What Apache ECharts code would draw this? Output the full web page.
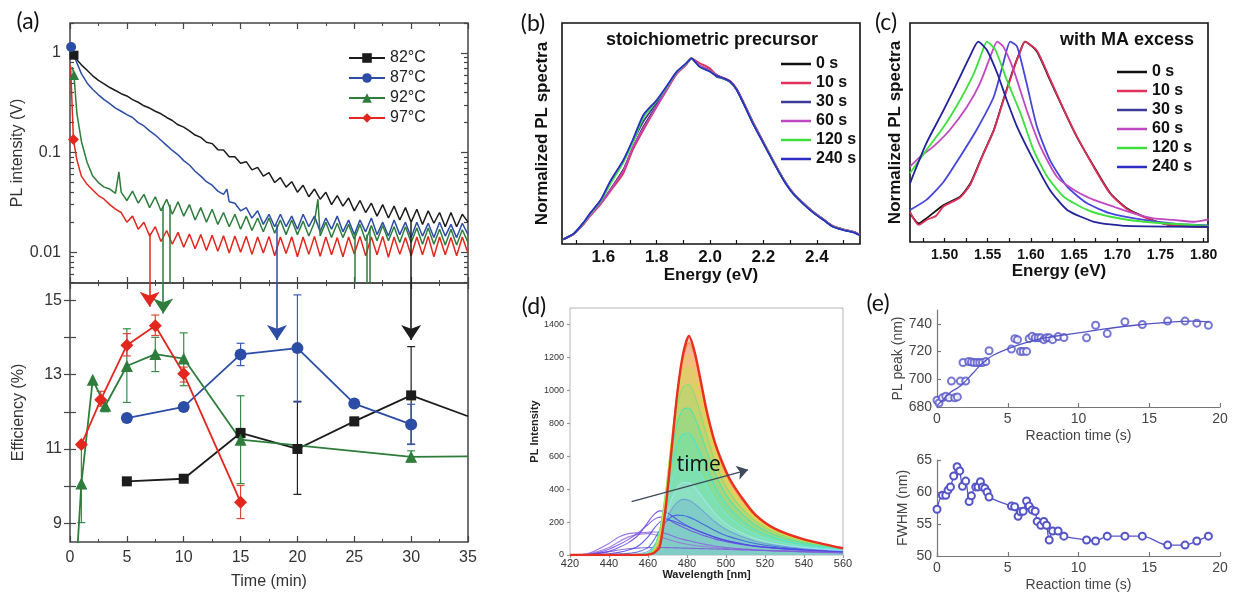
<!DOCTYPE html>
<html style="height: 100%">
<head>
<meta charset="utf-8">
<script src="https://cdn.jsdelivr.net/npm/echarts@6/dist/echarts.min.js"></script>
</head>
<body style="height: 100%; margin: 0; background: #fff">
<div id="container" style="width: 1236px; height: 597px"></div>
<script>
// ---------- panel (a) top: PL decay, [time, intensity] ----------
var decay82 = [[0.1,1.05],[0.35,0.95],[0.5,0.88],[1,0.76],[1.5,0.67],[2,0.59],[2.5,0.53],[3,0.49],[3.5,0.45],[4,0.42],[4.5,0.39],[5,0.37],[5.5,0.34],[6,0.32],[6.5,0.295],[7,0.28],[7.5,0.26],[8,0.245],[8.5,0.225],[9,0.21],[9.5,0.19],[10,0.18],[10.5,0.165],[11,0.15],[11.5,0.142],[12,0.127],[12.5,0.123],[13,0.107],[13.5,0.106],[14,0.091],[14.5,0.091],[15,0.078],[15.5,0.081],[16,0.067],[16.5,0.071],[17,0.058],[17.5,0.063],[18,0.05],[18.5,0.056],[19,0.045],[19.5,0.051],[20,0.04],[20.5,0.047],[21,0.036],[21.5,0.043],[22,0.034],[22.5,0.04],[23,0.03],[23.5,0.037],[24,0.029],[24.5,0.035],[25,0.026],[25.5,0.033],[26,0.025],[26.5,0.031],[27,0.023],[27.5,0.03],[28,0.022],[28.5,0.029],[29,0.021],[29.5,0.028],[30,0.02],[30.5,0.027],[31,0.019],[31.5,0.026],[32,0.0195],[32.5,0.025],[33,0.018],[33.5,0.025],[34,0.018],[34.5,0.024],[35,0.02]];
var decay87 = [[0.1,1.15],[0.5,0.85],[1,0.62],[1.5,0.5],[2,0.43],[2.5,0.38],[3,0.34],[3.5,0.31],[4,0.28],[4.5,0.26],[5,0.24],[5.5,0.225],[6,0.2],[6.5,0.185],[7,0.165],[7.5,0.15],[8,0.133],[8.5,0.118],[9,0.105],[9.5,0.095],[10,0.083],[10.5,0.075],[11,0.065],[11.5,0.058],[12,0.051],[12.5,0.047],[13,0.041],[13.5,0.038],[13.8,0.043],[14,0.032],[14.5,0.031],[15,0.026],[15.5,0.028],[16,0.022],[16.5,0.026],[17,0.019],[17.5,0.024],[18,0.018],[18.5,0.024],[19,0.018],[19.5,0.023],[20,0.017],[20.5,0.024],[21,0.018],[21.5,0.023],[22,0.016],[22.5,0.022],[23,0.017],[23.5,0.023],[24,0.016],[24.5,0.021],[25,0.015],[25.5,0.021],[26,0.016],[26.5,0.022],[27,0.015],[27.5,0.02],[28,0.0145],[28.5,0.021],[29,0.015],[29.5,0.02],[30,0.014],[30.5,0.02],[31,0.0145],[31.5,0.0195],[32,0.014],[32.5,0.02],[33,0.0145],[33.5,0.019],[34,0.014],[34.5,0.0195],[35,0.015]];
var decay92 = [[0.2,0.72],[0.35,0.6],[0.6,0.25],[1,0.13],[1.5,0.08],[2,0.058],[2.5,0.05],[3,0.045],[3.5,0.043],[4,0.039],[4.3,0.064],[4.5,0.04],[5,0.033],[5.5,0.041],[6,0.031],[6.5,0.038],[7,0.028],[7.5,0.036],[8,0.026],[8.5,0.034],[9,0.024],[9.5,0.032],[10,0.023],[10.5,0.03],[11,0.021],[11.5,0.028],[12,0.02],[12.5,0.027],[13,0.019],[13.5,0.025],[14,0.018],[14.5,0.024],[15,0.017],[15.5,0.023],[16,0.0165],[16.5,0.022],[17,0.016],[17.5,0.022],[18,0.0155],[18.5,0.021],[19,0.015],[19.5,0.021],[20,0.015],[20.5,0.0205],[21,0.0145],[21.5,0.02],[21.8,0.034],[22,0.0145],[22.5,0.02],[23,0.014],[23.5,0.0195],[24,0.014],[24.5,0.019],[25,0.0135],[25.5,0.019],[26,0.013],[26.5,0.0185],[27,0.013],[27.5,0.0185],[28,0.013],[28.5,0.018],[29,0.0125],[29.5,0.018],[30,0.0125],[30.5,0.0175],[31,0.012],[31.5,0.0175],[32,0.012],[32.5,0.017],[33,0.0118],[33.5,0.017],[34,0.0118],[34.5,0.0168],[35,0.0125]];
var decay97 = [[0.05,0.75],[0.3,0.135],[0.6,0.085],[1,0.058],[1.5,0.048],[2,0.042],[2.5,0.037],[3,0.034],[3.5,0.03],[4,0.027],[4.5,0.025],[5,0.02],[5.5,0.023],[6,0.017],[6.5,0.02],[7,0.0145],[7.5,0.018],[8,0.0128],[8.5,0.0165],[9,0.012],[9.5,0.0158],[10,0.0112],[10.5,0.0152],[11,0.0108],[11.5,0.015],[12,0.0104],[12.5,0.0148],[13,0.0102],[13.5,0.0146],[14,0.0098],[14.5,0.0145],[15,0.01],[15.5,0.0144],[16,0.0095],[16.5,0.0142],[17,0.0098],[17.5,0.0144],[18,0.0092],[18.5,0.0142],[19,0.0097],[19.5,0.0143],[20,0.009],[20.5,0.0142],[21,0.0095],[21.5,0.0144],[22,0.0091],[22.5,0.0142],[23,0.0094],[23.5,0.014],[24,0.009],[24.5,0.0142],[25,0.0096],[25.5,0.0144],[26,0.0092],[26.5,0.0142],[27,0.0094],[27.5,0.0144],[28,0.0089],[28.5,0.0142],[29,0.0095],[29.5,0.014],[30,0.0092],[30.5,0.0142],[31,0.0094],[31.5,0.0144],[32,0.009],[32.5,0.0142],[33,0.0094],[33.5,0.014],[34,0.0092],[34.5,0.0142],[35,0.0098]];
// vertical drop-outs in the decay traces: [time, level they drop from]
var drops82 = [[30, 0.02]];
var drops87 = [[18.2, 0.019]];
var drops92 = [[8.2, 0.029], [8.8, 0.03], [25.0, 0.0155], [26.1, 0.015], [26.4, 0.0175]];
var drops97 = [[7.0, 0.0155]];
var decayMin = 0.0049, decayMax = 2;

// ---------- panel (a) bottom: efficiency ----------
var effTime82 = [5, 10, 15, 20, 25, 30, 35];
var eff82 = [10.13, 10.2, 11.43, 11.0, 11.74, 12.44, 11.88];
var err82 = [[15, 11.3, 11.55], [20, 9.78, 12.28], [25, 11.65, 11.85], [30, 11.13, 13.75]];
var effTime87 = [5, 10, 15, 20, 25, 30];
var eff87 = [11.83, 12.13, 13.54, 13.71, 12.22, 11.66];
var err87 = [[15, 13.24, 13.84], [20, 12.26, 15.14], [30, 11.12, 12.2]];
var effTime92 = [0.55, 1, 2, 3.1, 5, 7.5, 10, 15, 30, 35];
var eff92 = [7.8, 10.07, 12.86, 12.16, 13.23, 13.55, 13.43, 11.25, 10.79, 10.8];
var err92 = [[1, 9.02, 11.05], [3.1, 12.0, 12.3], [5, 12.25, 14.23], [7.5, 13.08, 14.0], [10, 12.7, 14.12], [15, 10.07, 12.43], [30, 10.65, 10.95]];
var effTime97 = [1, 2.7, 5, 7.5, 10, 15];
var eff97 = [11.12, 12.32, 13.79, 14.31, 13.02, 9.57];
var err97 = [[2.7, 12.15, 12.55], [5, 13.5, 14.1], [7.5, 14.05, 14.6], [10, 12.8, 13.2], [15, 9.13, 10.02]];
// arrows: [time, tip]
var arrow82 = [30, 13.93], arrow87 = [18.2, 13.93], arrow92 = [8.2, 14.64], arrow97 = [7.0, 14.82];
var effMin = 8.5, effMax = 15.46;

// ---------- panel (b): stoichiometric precursor ----------
var bEnergy = [1.45, 1.49, 1.525, 1.55, 1.59, 1.625, 1.675, 1.71, 1.75, 1.8, 1.84, 1.875, 1.91, 1.93, 1.96, 2.0, 2.025, 2.05, 2.075, 2.1, 2.125, 2.16, 2.2, 2.24, 2.275, 2.31, 2.35, 2.39, 2.425, 2.46, 2.5, 2.54, 2.56];
var b0s   = [0.025, 0.055, 0.108, 0.155, 0.22, 0.29, 0.4, 0.515, 0.63, 0.745, 0.84, 0.92, 0.968, 1.0, 0.96, 0.935, 0.908, 0.893, 0.876, 0.832, 0.76, 0.655, 0.546, 0.438, 0.348, 0.276, 0.218, 0.168, 0.132, 0.096, 0.078, 0.064, 0.05];
var b10s  = [0.025, 0.054, 0.105, 0.15, 0.215, 0.282, 0.381, 0.506, 0.614, 0.739, 0.835, 0.915, 0.965, 1.0, 0.975, 0.945, 0.91, 0.895, 0.878, 0.835, 0.765, 0.66, 0.55, 0.44, 0.35, 0.278, 0.22, 0.17, 0.133, 0.097, 0.079, 0.065, 0.051];
var b30s  = [0.025, 0.056, 0.113, 0.163, 0.235, 0.33, 0.45, 0.55, 0.66, 0.76, 0.85, 0.925, 0.97, 1.0, 0.957, 0.93, 0.9, 0.89, 0.872, 0.83, 0.76, 0.655, 0.545, 0.437, 0.348, 0.275, 0.217, 0.167, 0.131, 0.095, 0.077, 0.063, 0.05];
var b60s  = [0.025, 0.055, 0.107, 0.153, 0.218, 0.288, 0.395, 0.52, 0.625, 0.742, 0.838, 0.918, 0.966, 1.0, 0.962, 0.936, 0.906, 0.892, 0.875, 0.833, 0.762, 0.656, 0.548, 0.439, 0.349, 0.277, 0.219, 0.169, 0.132, 0.096, 0.078, 0.064, 0.05];
var b120s = [0.025, 0.057, 0.112, 0.16, 0.23, 0.32, 0.44, 0.545, 0.68, 0.77, 0.85, 0.925, 0.97, 1.0, 0.955, 0.93, 0.905, 0.89, 0.873, 0.83, 0.758, 0.652, 0.544, 0.436, 0.347, 0.274, 0.216, 0.166, 0.13, 0.094, 0.076, 0.062, 0.049];
var b240s = [0.025, 0.057, 0.115, 0.165, 0.237, 0.336, 0.452, 0.56, 0.695, 0.775, 0.856, 0.928, 0.973, 1.0, 0.955, 0.928, 0.905, 0.892, 0.874, 0.829, 0.757, 0.65, 0.542, 0.434, 0.345, 0.273, 0.215, 0.165, 0.129, 0.093, 0.075, 0.061, 0.048];

// ---------- panel (c): with MA excess, [energy, normalized PL] ----------
var c0s = [[1.46,0.143],[1.47,0.093],[1.479,0.118],[1.499,0.185],[1.518,0.226],[1.53,0.293],[1.545,0.443],[1.557,0.559],[1.568,0.709],[1.58,0.867],[1.588,0.958],[1.593,1.0],[1.607,0.95],[1.622,0.809],[1.638,0.659],[1.653,0.526],[1.673,0.376],[1.692,0.243],[1.711,0.168],[1.731,0.126],[1.75,0.096],[1.769,0.08],[1.806,0.076]];
var c10s = [[1.46,0.15],[1.465,0.11],[1.47,0.085],[1.48,0.112],[1.49,0.13],[1.499,0.178],[1.518,0.222],[1.53,0.288],[1.545,0.44],[1.557,0.556],[1.568,0.705],[1.58,0.862],[1.588,0.955],[1.593,1.0],[1.607,0.955],[1.622,0.815],[1.638,0.662],[1.653,0.528],[1.673,0.372],[1.692,0.24],[1.711,0.165],[1.731,0.124],[1.75,0.095],[1.769,0.08],[1.806,0.076]];
var c30s = [[1.46,0.16],[1.479,0.21],[1.499,0.301],[1.518,0.426],[1.537,0.559],[1.557,0.725],[1.568,0.892],[1.576,1.0],[1.584,0.975],[1.595,0.792],[1.607,0.575],[1.622,0.409],[1.642,0.276],[1.665,0.193],[1.692,0.143],[1.731,0.11],[1.769,0.09],[1.806,0.083]];
var c60s = [[1.46,0.376],[1.472,0.426],[1.487,0.476],[1.506,0.559],[1.526,0.675],[1.541,0.792],[1.553,0.925],[1.561,1.0],[1.568,0.975],[1.58,0.858],[1.595,0.659],[1.611,0.476],[1.63,0.326],[1.65,0.26],[1.673,0.21],[1.696,0.176],[1.719,0.143],[1.742,0.118],[1.765,0.11],[1.789,0.101],[1.806,0.113]];
var c120s = [[1.46,0.343],[1.479,0.459],[1.499,0.575],[1.518,0.709],[1.534,0.842],[1.543,0.942],[1.549,1.0],[1.559,0.958],[1.572,0.809],[1.588,0.642],[1.603,0.459],[1.619,0.326],[1.638,0.226],[1.665,0.16],[1.692,0.126],[1.731,0.101],[1.806,0.08]];
var c240s = [[1.46,0.293],[1.479,0.493],[1.499,0.659],[1.518,0.825],[1.53,0.933],[1.539,1.0],[1.549,0.958],[1.561,0.842],[1.572,0.709],[1.584,0.575],[1.603,0.409],[1.622,0.26],[1.642,0.16],[1.673,0.101],[1.711,0.08],[1.806,0.076]];

// ---------- panel (d): PL spectra vs wavelength ----------
var dWave = [420, 430, 440, 445, 450, 455, 460, 463, 466, 469, 472, 475, 478, 481, 484, 487, 490, 494, 498, 502, 508, 515, 525, 540, 560];
var d01 = [0, 8, 45, 80, 110, 125, 130, 125, 115, 100, 88, 78, 70, 64, 58, 54, 50, 45, 41, 38, 34, 30, 25, 20, 14];
var d02 = [0, 12, 70, 110, 130, 135, 138, 140, 138, 130, 118, 105, 95, 86, 78, 70, 63, 55, 48, 43, 37, 31, 25, 19, 13];
var d03 = [0, 4, 20, 30, 38, 42, 45, 46, 46, 45, 44, 43, 42, 41, 40, 39, 38, 36, 35, 33, 31, 29, 26, 22, 18];
var d04 = [0, 4, 35, 62, 95, 135, 185, 215, 230, 225, 205, 185, 168, 152, 138, 125, 113, 98, 86, 76, 64, 52, 41, 30, 20];
var d05 = [0, 2, 22, 45, 75, 120, 200, 245, 268, 262, 240, 215, 192, 172, 155, 140, 126, 108, 93, 81, 67, 54, 42, 31, 21];
var d06 = [0, 0, 8, 16, 30, 55, 110, 160, 200, 215, 210, 198, 184, 170, 155, 141, 128, 110, 95, 83, 69, 55, 43, 32, 22];
var d07 = [0, 0, 3, 6, 10, 20, 45, 90, 150, 200, 232, 242, 240, 230, 214, 195, 176, 150, 128, 110, 90, 70, 52, 36, 24];
var d08 = [0, 0, 0, 2, 4, 8, 22, 55, 115, 200, 275, 320, 338, 333, 310, 280, 248, 205, 170, 142, 112, 84, 60, 40, 26];
var d09 = [0, 0, 0, 0, 2, 5, 15, 45, 115, 220, 335, 410, 440, 438, 410, 365, 318, 258, 210, 174, 135, 100, 70, 45, 28];
var d10 = [0, 0, 0, 0, 1, 4, 12, 45, 140, 290, 440, 540, 585, 580, 545, 485, 420, 340, 275, 226, 172, 126, 86, 53, 32];
var d11 = [0, 0, 0, 0, 1, 3, 10, 45, 150, 340, 540, 670, 735, 738, 690, 612, 528, 425, 342, 280, 212, 154, 104, 63, 36];
var d12 = [0, 0, 0, 0, 0, 2, 8, 40, 150, 370, 620, 800, 885, 892, 835, 740, 635, 508, 408, 333, 252, 182, 122, 73, 39];
var d13 = [0, 0, 0, 0, 0, 2, 6, 35, 145, 380, 680, 910, 1020, 1035, 968, 855, 730, 580, 462, 376, 284, 204, 136, 81, 41];
var d14 = [0, 0, 0, 0, 0, 1, 5, 30, 130, 370, 700, 970, 1110, 1140, 1065, 935, 795, 628, 500, 406, 306, 219, 146, 87, 42];
var d15 = [0, 0, 0, 0, 0, 1, 4, 25, 110, 340, 680, 990, 1170, 1215, 1130, 985, 833, 656, 522, 424, 320, 229, 152, 90, 42];
var d16 = [0, 0, 0, 0, 0, 0, 3, 18, 80, 300, 650, 990, 1200, 1290, 1205, 1040, 866, 682, 548, 445, 338, 236, 156, 92, 40];
var d17 = [0, 0, 0, 0, 0, 0, 2, 12, 50, 280, 630, 980, 1220, 1330, 1230, 1060, 880, 695, 565, 460, 350, 245, 160, 95, 41];
var timeArrowFrom = [451.6, 324], timeArrowTo = [511.3, 517], timeLabelAt = [486, 547];

// ---------- panel (e): PL peak and FWHM vs reaction time ----------
var ePeakTime = [0, 0.14, 0.38, 0.62, 0.85, 1.02, 1.25, 1.44, 1.65, 1.84, 2.03, 2.24, 2.43, 2.62, 2.83, 3.02, 3.21, 3.45, 3.68, 5.26, 5.5, 5.69, 5.9, 6.09, 6.33, 6.51, 6.72, 6.94, 7.15, 7.34, 7.55, 7.74, 7.93, 8.17, 8.56, 8.97, 10.57, 11.21, 12.03, 13.28, 14.51, 16.3, 17.53, 18.36, 19.18];
var ePeak = [684.9, 682.9, 686.6, 687.8, 686.6, 698.7, 686.6, 687.3, 698.7, 712.1, 698.7, 712.8, 712.4, 712.1, 712.1, 712.1, 712.1, 712.8, 720.6, 721.8, 729.3, 728.6, 720.1, 720.1, 720.1, 729.3, 731.0, 729.9, 729.9, 729.9, 728.6, 729.9, 729.9, 728.6, 730.8, 730.1, 729.9, 739.0, 733.0, 741.5, 739.5, 742.0, 742.0, 740.5, 739.0];
var eFitTime = [0, 0.5, 1, 1.5, 2, 2.5, 3, 3.5, 4, 5, 6, 7, 8, 9, 10, 12, 14, 16, 18, 19.2];
var eFit = [681, 686, 691, 694, 698.5, 704, 709.5, 714, 717.5, 722, 725.5, 728.5, 730.5, 732, 733.5, 736.5, 739, 740.8, 742, 741.5];
var eFwhmTime = [0, 0.38, 0.62, 0.78, 0.95, 1.18, 1.42, 1.61, 1.8, 2.03, 2.27, 2.43, 2.74, 2.9, 3.07, 3.21, 3.38, 3.54, 3.68, 5.26, 5.49, 5.73, 5.9, 6.09, 6.33, 6.51, 6.72, 6.94, 7.08, 7.34, 7.55, 7.74, 7.93, 8.17, 8.56, 8.97, 10.57, 11.21, 12.03, 13.28, 14.51, 16.3, 17.53, 18.36, 19.18];
var eFwhm = [57.3, 59.5, 59.5, 60.3, 60.8, 62.5, 63.95, 63.3, 60.9, 61.7, 58.5, 59.4, 60.8, 60.8, 61.6, 60.8, 60.6, 60.0, 59.2, 57.8, 57.7, 56.2, 56.9, 57.0, 58.6, 57.8, 57.2, 57.0, 55.4, 54.8, 55.4, 54.8, 52.5, 53.9, 53.9, 53.1, 52.5, 52.35, 53.1, 53.1, 53.1, 51.7, 51.7, 52.35, 53.1];

// ---------- chart ----------
var FONT = "'Liberation Sans', Arial, sans-serif";
var dom = document.getElementById('container');
var myChart = echarts.init(dom);

function zip(xs, ys) { return xs.map(function (x, i) { return [x, ys[i]]; }); }
function tickStyle(len, inside, color) {
    return {show: true, inside: inside, length: len, lineStyle: {color: color || '#444', width: 1.2}};
}
function mirrorX(gridIndex, position) {
    return {gridIndex: gridIndex, type: 'value', position: position, min: 0, max: 35, interval: 5,
        axisLine: {show: false}, splitLine: {show: false}, axisLabel: {show: false},
        axisTick: tickStyle(6, true), minorTick: {show: true, splitNumber: 2, length: 3, lineStyle: {color: '#444'}}};
}
var majorLog = [0.01, 0.1, 1];
var minorLog = [0.005, 0.006, 0.007, 0.008, 0.009, 0.02, 0.03, 0.04, 0.05, 0.06, 0.07, 0.08, 0.09, 0.2, 0.3, 0.4, 0.5, 0.6, 0.7, 0.8, 0.9, 2];
function logY(position, ticks, len) {
    return {gridIndex: 0, type: 'log', logBase: 10, position: position, min: decayMin, max: decayMax,
        axisLine: {show: false}, splitLine: {show: false}, axisLabel: {show: false},
        axisTick: Object.assign(tickStyle(len, true), {customValues: ticks})};
}

var c82 = '#1c1c1c', c87 = '#2c4da6', c92 = '#2e7d3d', c97 = '#e3261e';

function decaySeries(name, data, color, symbol, size, markIdx, drops) {
    return {
        name: name, type: 'line', xAxisIndex: 0, yAxisIndex: 0,
        data: data.map(function (p, i) { return i === markIdx ? p : {value: p, symbol: 'none'}; }),
        symbol: symbol, symbolSize: size, showAllSymbol: true,
        lineStyle: {color: color, width: 1.5}, itemStyle: {color: color},
        markLine: {silent: true, symbol: 'none', label: {show: false}, animation: false,
            lineStyle: {color: color, width: 1.5, type: 'solid'},
            data: drops.map(function (s) { return [{coord: [s[0], s[1]]}, {coord: [s[0], decayMin]}]; })}
    };
}
function effSeries(name, times, vals, color, symbol, size, plain, arrow) {
    return {
        name: name, type: 'line', xAxisIndex: 2, yAxisIndex: 4, z: 3,
        data: zip(times, vals).map(function (p, i) { return plain.indexOf(i) >= 0 ? {value: p, symbol: 'none'} : p; }),
        symbol: symbol, symbolSize: size, showAllSymbol: true,
        lineStyle: {color: color, width: 1.8}, itemStyle: {color: color},
        markLine: {silent: true, symbol: ['none', 'arrow'], symbolSize: 15, label: {show: false}, animation: false,
            lineStyle: {color: color, width: 1.6, type: 'solid'},
            data: [[{coord: [arrow[0], effMax]}, {coord: [arrow[0], arrow[1]]}]]}
    };
}
function errSeries(data, color) {
    return {
        type: 'custom', xAxisIndex: 2, yAxisIndex: 4, data: data, silent: true, z: 2,
        encode: {x: 0, y: [1, 2]},
        renderItem: function (params, api) {
            var lo = api.coord([api.value(0), api.value(1)]);
            var hi = api.coord([api.value(0), api.value(2)]);
            var w = 4, st = {stroke: color, lineWidth: 1.2};
            return {type: 'group', children: [
                {type: 'line', shape: {x1: lo[0], y1: lo[1], x2: hi[0], y2: hi[1]}, style: st},
                {type: 'line', shape: {x1: lo[0] - w, y1: lo[1], x2: lo[0] + w, y2: lo[1]}, style: st},
                {type: 'line', shape: {x1: hi[0] - w, y1: hi[1], x2: hi[0] + w, y2: hi[1]}, style: st}
            ]};
        }
    };
}
function specSeries(name, data, color, xi, yi) {
    return {name: name, type: 'line', xAxisIndex: xi, yAxisIndex: yi, data: data, symbol: 'none', showSymbol: false,
        smooth: 0.2, lineStyle: {color: color, width: 1.8}, itemStyle: {color: color}, silent: true};
}

var series = [
    decaySeries('82°C', decay82, c82, 'rect', 9, 1, drops82),
    decaySeries('87°C', decay87, c87, 'circle', 10, 0, drops87),
    decaySeries('92°C', decay92, c92, 'triangle', 10, 1, drops92),
    decaySeries('97°C', decay97, c97, 'diamond', 11, 1, drops97),
    errSeries(err82, c82), errSeries(err87, '#3a5bb5'), errSeries(err92, '#3a8a4a'), errSeries(err97, '#e0453a'),
    effSeries('82°C', effTime82, eff82, c82, 'rect', 10, [6], arrow82),
    effSeries('87°C', effTime87, eff87, c87, 'circle', 12, [], arrow87),
    effSeries('92°C', effTime92, eff92, c92, 'triangle', 12, [0, 9], arrow92),
    effSeries('97°C', effTime97, eff97, c97, 'diamond', 13, [], arrow97),

    specSeries('0 s', zip(bEnergy, b0s), '#111111', 4, 6),
    specSeries('10 s', zip(bEnergy, b10s), '#e0305a', 4, 6),
    specSeries('30 s', zip(bEnergy, b30s), '#3b3b95', 4, 6),
    specSeries('60 s', zip(bEnergy, b60s), '#c048c0', 4, 6),
    specSeries('120 s', zip(bEnergy, b120s), '#3ee03e', 4, 6),
    specSeries('240 s', zip(bEnergy, b240s), '#2c2cc8', 4, 6),

    specSeries('0 s', c0s, '#111111', 5, 7),
    specSeries('10 s', c10s, '#e0305a', 5, 7),
    specSeries('30 s', c30s, '#4646dc', 5, 7),
    specSeries('60 s', c60s, '#c048c0', 5, 7),
    specSeries('120 s', c120s, '#3ee03e', 5, 7),
    specSeries('240 s', c240s, '#22229a', 5, 7)
];

var dCurves = [d01, d02, d03, d04, d05, d06, d07, d08, d09, d10, d11, d12, d13, d14, d15, d16, d17];
var dColors = ['#9a70e0', '#8a5ee0', '#7c5ad8', '#7048e0', '#6040e8', '#4848e8', '#3c5ae0', '#6a9ad8', '#a8e4f0', '#70e8e8',
    '#40e8d8', '#40e8b0', '#70e870', '#c0e848', '#f0d040', '#f09030', '#e83020'];
var dFillFrom = 7;
// tinted bands under the later spectra, highest drawn first so each band keeps its own colour
for (var j = dCurves.length - 1; j >= dFillFrom; j--) {
    series.push({type: 'line', xAxisIndex: 6, yAxisIndex: 8, data: zip(dWave, dCurves[j]), showSymbol: false, smooth: 0.25,
        lineStyle: {width: 0}, areaStyle: {color: dColors[j], opacity: 0.28}, silent: true, z: 1});
}
dCurves.forEach(function (vals, i) {
    var last = i === dCurves.length - 1;
    var s = {type: 'line', xAxisIndex: 6, yAxisIndex: 8, data: zip(dWave, vals), showSymbol: false, smooth: 0.25,
        lineStyle: {color: dColors[i], width: last ? 2.4 : 1.1, opacity: last ? 1 : 0.85}, silent: true, z: 2};
    if (last) {
        s.markLine = {silent: true, symbol: ['none', 'arrow'], symbolSize: 11, label: {show: false}, animation: false,
            lineStyle: {color: '#3d4a5c', width: 1.5, type: 'solid'},
            data: [[{coord: timeArrowFrom}, {coord: timeArrowTo}]]};
        s.markPoint = {silent: true, symbol: 'circle', symbolSize: 0, animation: false,
            label: {show: true, formatter: 'time', fontSize: 21, color: '#111', fontFamily: "'Open Sans', sans-serif"},
            data: [{coord: timeLabelAt}]};
    }
    series.push(s);
});

series.push({type: 'line', xAxisIndex: 7, yAxisIndex: 9, data: zip(eFitTime, eFit), showSymbol: false, smooth: true,
    lineStyle: {color: '#5454c8', width: 1.3}, silent: true});
series.push({type: 'scatter', xAxisIndex: 7, yAxisIndex: 9, data: zip(ePeakTime, ePeak), symbol: 'emptyCircle', symbolSize: 7,
    itemStyle: {color: '#5454c8', borderWidth: 1.2}, silent: true});
series.push({type: 'line', xAxisIndex: 8, yAxisIndex: 10, data: zip(eFwhmTime, eFwhm), smooth: 0.3, symbol: 'emptyCircle',
    symbolSize: 7, showAllSymbol: true, lineStyle: {color: '#5454c8', width: 1.3}, itemStyle: {color: '#5454c8', borderWidth: 1.2}, silent: true});

function eAxisX(gridIndex) {
    return {gridIndex: gridIndex, type: 'value', min: 0, max: 20, interval: 5,
        axisLine: {show: true, lineStyle: {color: '#777', width: 1.2}}, splitLine: {show: false},
        axisTick: tickStyle(4, true, '#777'), axisLabel: {fontSize: 14, color: '#444', margin: 5, fontFamily: FONT},
        name: 'Reaction time (s)', nameLocation: 'middle', nameGap: 22, nameTextStyle: {fontSize: 14, color: '#444', fontFamily: FONT}};
}
function eAxisY(gridIndex, min, max, labels, name) {
    return {gridIndex: gridIndex, type: 'value', min: min, max: max,
        axisLine: {show: true, lineStyle: {color: '#777', width: 1.2}}, splitLine: {show: false},
        axisTick: Object.assign(tickStyle(4, true, '#777'), {customValues: labels}),
        axisLabel: {customValues: labels, fontSize: 14, color: '#444', margin: 5, fontFamily: FONT},
        name: name, nameLocation: 'middle', nameGap: 27, nameTextStyle: {fontSize: 14, color: '#444', fontFamily: FONT}};
}

var aLabel = {fontSize: 16, color: '#333', fontFamily: FONT};
var boldName = {fontSize: 17, fontWeight: 'bold', color: '#111', fontFamily: FONT};
var cTicks = [];
for (var k = 0; k <= 13; k++) { cTicks.push(+(1.475 + 0.025 * k).toFixed(3)); }
var dYLabels = [0, 200, 400, 600, 800, 1000, 1200, 1400];
var timeNames = ['0 s', '10 s', '30 s', '60 s', '120 s', '240 s'];
var specLegend = {orient: 'vertical', icon: 'rect', itemWidth: 30, itemHeight: 2.5, itemGap: 3, selectedMode: false,
    textStyle: {fontSize: 16, fontWeight: 'bold', color: '#111', fontFamily: FONT}};

var option = {
    animation: false,
    backgroundColor: '#fff',
    textStyle: {fontFamily: FONT},
    grid: [
        {left: 70, top: 23, width: 398, height: 260, show: true, borderColor: '#444', borderWidth: 1.5, outerBoundsMode: 'none'},
        {left: 70, top: 283, width: 398, height: 259, show: true, borderColor: '#444', borderWidth: 1.5, outerBoundsMode: 'none'},
        {left: 562, top: 23, width: 298, height: 221, show: true, borderColor: '#111', borderWidth: 1.6, outerBoundsMode: 'none'},
        {left: 910, top: 23, width: 298, height: 219, show: true, borderColor: '#111', borderWidth: 1.6, outerBoundsMode: 'none'},
        {left: 570, top: 308, width: 273, height: 247, show: true, borderColor: '#b5b5b5', borderWidth: 1, outerBoundsMode: 'none'},
        {left: 937, top: 310, width: 283, height: 97, outerBoundsMode: 'none'},
        {left: 937, top: 460, width: 283, height: 96, outerBoundsMode: 'none'}
    ],
    xAxis: [
        mirrorX(0, 'bottom'),
        mirrorX(0, 'top'),
        Object.assign(mirrorX(1, 'bottom'), {
            axisLabel: Object.assign({show: true, margin: 8}, aLabel),
            name: 'Time (min)', nameLocation: 'middle', nameGap: 32, nameTextStyle: aLabel}),
        mirrorX(1, 'top'),
        {gridIndex: 2, type: 'value', min: 1.445, max: 2.562, axisLine: {show: false}, splitLine: {show: false},
            axisTick: Object.assign(tickStyle(4, true, '#111'), {customValues: [1.5, 1.6, 1.7, 1.8, 1.9, 2.0, 2.1, 2.2, 2.3, 2.4, 2.5]}),
            axisLabel: {customValues: [1.6, 1.8, 2.0, 2.2, 2.4], formatter: function (v) { return (+v).toFixed(1); },
                fontSize: 17, fontWeight: 'bold', color: '#111', margin: 5, fontFamily: FONT},
            name: 'Energy (eV)', nameLocation: 'middle', nameGap: 20, nameTextStyle: boldName},
        {gridIndex: 3, type: 'value', min: 1.46, max: 1.805, axisLine: {show: false}, splitLine: {show: false},
            axisTick: Object.assign(tickStyle(4, true, '#111'), {customValues: cTicks}),
            axisLabel: {customValues: [1.5, 1.55, 1.6, 1.65, 1.7, 1.75, 1.8], formatter: function (v) { return (+v).toFixed(2); },
                fontSize: 14, fontWeight: 'bold', color: '#111', margin: 6, fontFamily: FONT},
            name: 'Energy (eV)', nameLocation: 'middle', nameGap: 21, nameTextStyle: boldName},
        {gridIndex: 4, type: 'value', min: 420, max: 560, interval: 20, axisLine: {show: false}, splitLine: {show: false},
            axisTick: tickStyle(3, false, '#999'),
            axisLabel: {fontSize: 11, color: '#333', margin: 3, fontFamily: FONT, formatter: function (v) { return String(v); }},
            name: 'Wavelength [nm]', nameLocation: 'middle', nameGap: 14,
            nameTextStyle: {fontSize: 11, fontWeight: 'bold', color: '#222', fontFamily: FONT}},
        eAxisX(5),
        eAxisX(6)
    ],
    yAxis: [
        Object.assign(logY('left', majorLog, 7), {
            axisLabel: Object.assign({show: true, customValues: majorLog, margin: 9,
                formatter: function (v) { return String(+(+v).toPrecision(2)); }}, aLabel),
            name: 'PL intensity (V)', nameLocation: 'middle', nameGap: 43, nameTextStyle: aLabel}),
        logY('left', minorLog, 4),
        logY('right', majorLog, 7),
        logY('right', minorLog, 4),
        {gridIndex: 1, type: 'value', min: effMin, max: effMax, axisLine: {show: false}, splitLine: {show: false},
            axisTick: Object.assign(tickStyle(6, true), {customValues: [9, 10, 11, 12, 13, 14, 15]}),
            axisLabel: Object.assign({customValues: [9, 11, 13, 15], margin: 8}, aLabel),
            name: 'Efficiency (%)', nameLocation: 'middle', nameGap: 43, nameTextStyle: aLabel},
        {gridIndex: 1, type: 'value', position: 'right', min: effMin, max: effMax, axisLine: {show: false}, splitLine: {show: false},
            axisTick: Object.assign(tickStyle(6, true), {customValues: [9, 10, 11, 12, 13, 14, 15]}), axisLabel: {show: false}},
        {gridIndex: 2, type: 'value', min: 0, max: 1.19, axisLine: {show: false}, splitLine: {show: false},
            axisTick: {show: false}, axisLabel: {show: false},
            name: 'Normalized PL spectra', nameLocation: 'middle', nameGap: 11, nameTextStyle: boldName},
        {gridIndex: 3, type: 'value', min: 0, max: 1.093, axisLine: {show: false}, splitLine: {show: false},
            axisTick: {show: false}, axisLabel: {show: false},
            name: 'Normalized PL spectra', nameLocation: 'middle', nameGap: 6, nameTextStyle: boldName},
        {gridIndex: 4, type: 'value', min: 0, max: 1500, axisLine: {show: false}, splitLine: {show: false},
            axisTick: Object.assign(tickStyle(3, false, '#999'), {customValues: dYLabels}),
            axisLabel: {customValues: dYLabels, fontSize: 9, color: '#333', margin: 6, fontFamily: FONT,
                formatter: function (v) { return String(v); }},
            name: 'PL Intensity', nameLocation: 'middle', nameGap: 29,
            nameTextStyle: {fontSize: 11, fontWeight: 'bold', color: '#222', fontFamily: FONT}},
        eAxisY(5, 680, 750, [680, 700, 720, 740], 'PL peak (nm)'),
        eAxisY(6, 50, 65, [50, 55, 60, 65], 'FWHM (nm)')
    ],
    legend: [
        {data: ['82°C', '87°C', '92°C', '97°C'], orient: 'vertical', left: 343, top: 45, itemWidth: 36, itemHeight: 12, itemGap: 4,
            selectedMode: false, textStyle: {fontSize: 16, color: '#222', fontFamily: FONT}},
        Object.assign({data: timeNames, left: 776, top: 51}, specLegend),
        Object.assign({data: timeNames, left: 1112, top: 59, itemWidth: 27}, specLegend)
    ],
    graphic: [
        {type: 'text', x: 28, y: 22, style: {text: '(a)', font: '23px Lato', fill: '#111', textAlign: 'center', textVerticalAlign: 'middle'}},
        {type: 'text', x: 533, y: 24, style: {text: '(b)', font: '23px Lato', fill: '#111', textAlign: 'center', textVerticalAlign: 'middle'}},
        {type: 'text', x: 886, y: 23, style: {text: '(c)', font: '23px Lato', fill: '#111', textAlign: 'center', textVerticalAlign: 'middle'}},
        {type: 'text', x: 534, y: 307, style: {text: '(d)', font: '23px Lato', fill: '#111', textAlign: 'center', textVerticalAlign: 'middle'}},
        {type: 'text', x: 878, y: 304, style: {text: '(e)', font: '23px Lato', fill: '#111', textAlign: 'center', textVerticalAlign: 'middle'}},
        {type: 'text', x: 712, y: 40, style: {text: 'stoichiometric precursor', font: 'bold 18px ' + FONT, fill: '#111', textAlign: 'center', textVerticalAlign: 'middle'}},
        {type: 'text', x: 1127, y: 40, style: {text: 'with MA excess', font: 'bold 18px ' + FONT, fill: '#111', textAlign: 'center', textVerticalAlign: 'middle'}}
    ],
    series: series
};

if (option && typeof option === 'object') {
    myChart.setOption(option);
}
</script>
</body>
</html>
